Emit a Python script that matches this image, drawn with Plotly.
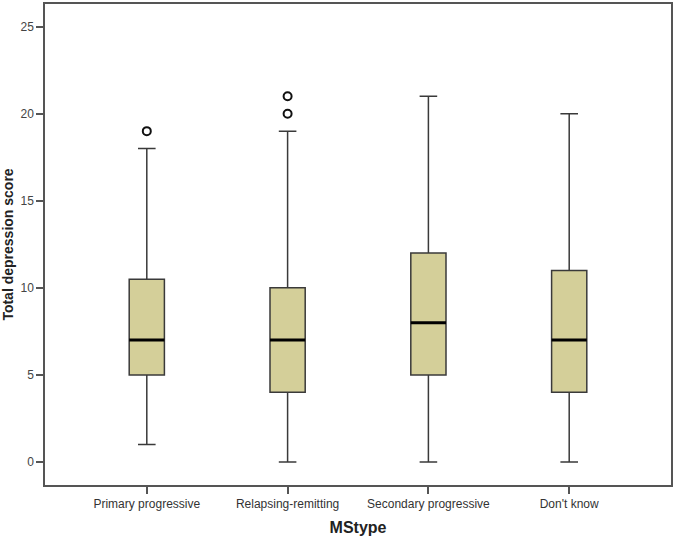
import plotly.graph_objects as go

categories = ["Primary progressive", "Relapsing-remitting", "Secondary progressive", "Don't know"]
lower_whisker = [1, 0, 0, 0]
q1 = [5, 4, 5, 4]
median = [7, 7, 8, 7]
q3 = [10.5, 10, 12, 11]
upper_whisker = [18, 19, 21, 20]
outlier_x = ["Primary progressive", "Relapsing-remitting", "Relapsing-remitting"]
outlier_y = [19, 20, 21]
y_ticks = [0, 5, 10, 15, 20, 25]

FONT = "Liberation Sans, Arial, sans-serif"

fig = go.Figure()
fig.add_trace(go.Box(
    x=categories, q1=q1, median=median, q3=q3,
    lowerfence=lower_whisker, upperfence=upper_whisker,
    fillcolor="#D4CF99", line=dict(color="#3a3a3a", width=1.5),
    whiskerwidth=0.5, width=0.25, boxpoints=False, showlegend=False,
    hoverinfo="skip",
))
# thicker black median lines
fig.add_trace(go.Box(
    x=categories, q1=median, median=median, q3=median,
    lowerfence=median, upperfence=median,
    fillcolor="rgba(0,0,0,0)", line=dict(color="#000000", width=3),
    whiskerwidth=0, width=0.25, boxpoints=False, showlegend=False,
    hoverinfo="skip",
))
fig.add_trace(go.Scatter(
    x=outlier_x, y=outlier_y, mode="markers",
    marker=dict(symbol="circle-open", size=8, color="#111111", line=dict(width=2)),
    showlegend=False, hoverinfo="skip",
))

fig.update_layout(
    width=675, height=541,
    margin=dict(l=45, r=4, t=4, b=56, autoexpand=False),
    paper_bgcolor="white", plot_bgcolor="white",
    font=dict(family=FONT, color="#333333", size=12),
    boxmode="overlay",
)
fig.update_xaxes(
    type="category", categoryorder="array", categoryarray=categories,
    range=[-0.723, 3.723], automargin=False,
    showline=True, mirror=True, linecolor="#555555", linewidth=1.5,
    ticks="outside", ticklen=7, tickcolor="#555555", tickwidth=1.5,
    showgrid=False, zeroline=False,
    tickfont=dict(size=12, color="#333333"),
    title=dict(text="<b>MStype</b>", font=dict(size=16, color="#222222"), standoff=12),
)
fig.update_yaxes(
    range=[-1.32, 26.3], tickvals=y_ticks, automargin=False,
    showline=True, mirror=True, linecolor="#555555", linewidth=1.5,
    ticks="outside", ticklen=7, tickcolor="#555555", tickwidth=1.5,
    showgrid=False, zeroline=False,
    tickfont=dict(size=12, color="#444444"),
    title=dict(text="<b>Total depression score</b>", font=dict(size=14, color="#222222"), standoff=9),
)

fig.write_html("out.html", config={"displayModeBar": False},
               post_script="document.body.style.margin='0px';")
